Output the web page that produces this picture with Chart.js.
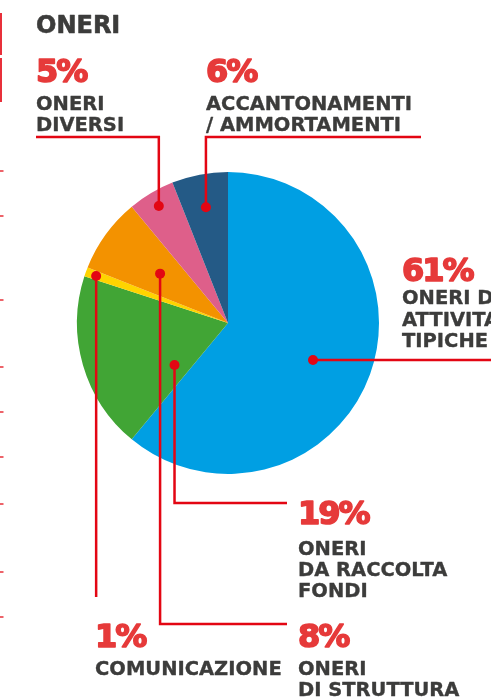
<!DOCTYPE html>
<html>
<head>
<meta charset="utf-8">
<script src="https://cdn.jsdelivr.net/npm/chart.js@4"></script>
<style>
  html, body { margin: 0; padding: 0; background: #ffffff; }
  #wrap { position: relative; width: 491px; height: 698px; overflow: hidden; }
  canvas { display: block; }
</style>
</head>
<body>
<div id="wrap"><canvas id="c" width="491" height="698"></canvas></div>
<script>
// ---- data ----
const title = 'ONERI';
const categories = ['ONERI DI ATTIVITÀ TIPICHE', 'ONERI DA RACCOLTA FONDI', 'COMUNICAZIONE', 'ONERI DI STRUTTURA', 'ONERI DIVERSI', 'ACCANTONAMENTI / AMMORTAMENTI'];
const values = [61, 19, 1, 8, 5, 6];
const labelLines = [
  ['ONERI DI', "ATTIVITA'", 'TIPICHE'],
  ['ONERI', 'DA RACCOLTA', 'FONDI'],
  ['COMUNICAZIONE'],
  ['ONERI', 'DI STRUTTURA'],
  ['ONERI', 'DIVERSI'],
  ['ACCANTONAMENTI', '/ AMMORTAMENTI']
];
const sliceColors = ['#009FE3', '#41A535', '#FFD400', '#F39200', '#DE5F8A', '#245A86'];

// ---- styles / layout ----
const RED_LINE = '#E30613';
const RED_TEXT = '#E63A3A';
const GRAY = '#3C3C3B';
const FONT = '"DejaVu Sans", sans-serif';
const layout = [
  { along: 0.517, radial: 0.614, leader: 'right', tx: 402, pctY: 281, lineY: [304, 326, 347] },
  { along: 0.18, radial: 0.45, leader: 'downRight', elbowY: 503, endX: 287, tx: 298, pctY: 524, lineY: [555, 576, 597] },
  { along: 0.45, radial: 0.927, leader: 'down', endY: 597, tx: 95, pctY: 647, lineY: [675] },
  { along: 0.5, radial: 0.556, leader: 'downRight', elbowY: 624, endX: 287, tx: 298, pctY: 647, lineY: [675, 696] },
  { along: 0.5, radial: 0.9, leader: 'up', elbowY: 137, endX: 36, tx: 36, pctY: 82, lineY: [110, 131] },
  { along: 0.5, radial: 0.78, leader: 'up', elbowY: 137, endX: 421, tx: 206, pctY: 82, lineY: [110, 131] }
];
const edgeMarks = [171, 216, 300, 367, 412, 457, 504, 572, 617];

function heavyText(ctx, text, x, y, color, stroke) {
  ctx.fillStyle = color;
  ctx.strokeStyle = color;
  ctx.lineWidth = stroke;
  ctx.lineJoin = 'round';
  ctx.fillText(text, x, y);
  ctx.strokeText(text, x, y);
}

const annotations = {
  id: 'annotations',
  afterDraw(chart) {
    const ctx = chart.ctx;
    const meta = chart.getDatasetMeta(0);
    ctx.save();
    ctx.fillStyle = '#E8303A';
    ctx.fillRect(0, 13, 2, 42);
    ctx.fillRect(0, 58, 2, 44);
    edgeMarks.forEach(y => ctx.fillRect(0, y - 0.75, 3.5, 1.5));

    ctx.textBaseline = 'alphabetic';
    ctx.textAlign = 'left';
    ctx.font = 'bold 24px ' + FONT;
    heavyText(ctx, title, 36, 33, GRAY, 0.6);

    meta.data.forEach((arc, i) => {
      const L = layout[i];
      const p = arc.getProps(['x', 'y', 'startAngle', 'endAngle', 'outerRadius'], true);
      const a = p.startAngle + (p.endAngle - p.startAngle) * L.along;
      const r = p.outerRadius * L.radial;
      const dx = p.x + Math.cos(a) * r;
      const dy = p.y + Math.sin(a) * r;

      ctx.strokeStyle = RED_LINE;
      ctx.lineWidth = 2.5;
      ctx.lineJoin = 'miter';
      ctx.beginPath();
      ctx.moveTo(dx, dy);
      if (L.leader === 'right') {
        ctx.lineTo(chart.width, dy);
      } else if (L.leader === 'down') {
        ctx.lineTo(dx, L.endY);
      } else {
        ctx.lineTo(dx, L.elbowY);
        ctx.lineTo(L.endX, L.elbowY);
      }
      ctx.stroke();

      ctx.fillStyle = RED_LINE;
      ctx.beginPath();
      ctx.arc(dx, dy, 5, 0, Math.PI * 2);
      ctx.fill();

      ctx.font = 'bold 32px ' + FONT;
      ctx.letterSpacing = '-2px';
      heavyText(ctx, values[i] + '%', L.tx, L.pctY, RED_TEXT, 1.6);
      ctx.letterSpacing = '0px';

      ctx.font = 'bold 19.5px ' + FONT;
      labelLines[i].forEach((t, k) => heavyText(ctx, t, L.tx, L.lineY[k], GRAY, 0.35));
    });
    ctx.restore();
  }
};

new Chart(document.getElementById('c'), {
  type: 'pie',
  data: {
    labels: categories,
    datasets: [{
      data: values,
      backgroundColor: sliceColors,
      borderWidth: 0,
      hoverOffset: 0,
      offset: 0
    }]
  },
  options: {
    responsive: false,
    animation: false,
    layout: { padding: { left: 77, right: 112, top: 172, bottom: 224 } },
    plugins: {
      legend: { display: false },
      tooltip: { enabled: false },
      title: { display: false }
    },
    events: []
  },
  plugins: [annotations]
});
</script>
</body>
</html>
